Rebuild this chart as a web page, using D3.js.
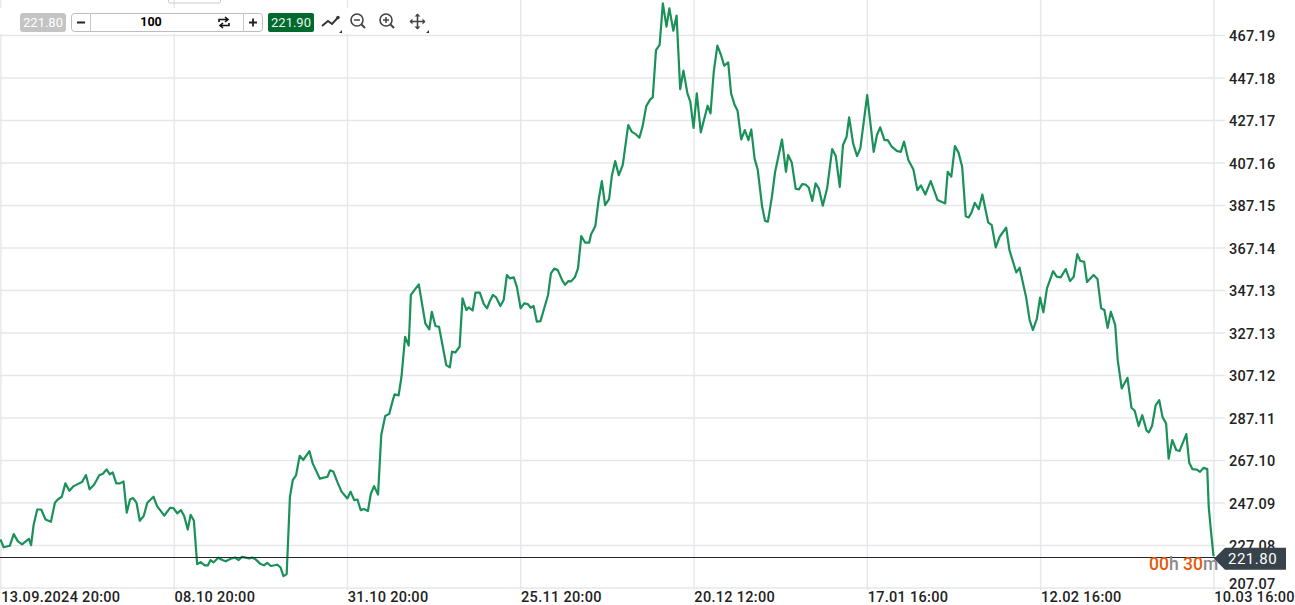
<!DOCTYPE html>
<html><head><meta charset="utf-8">
<style>
html,body{margin:0;padding:0;background:#fff;overflow:hidden}
svg{display:block}
text{font-family:Roboto,sans-serif}
</style>
<script src="https://cdn.jsdelivr.net/npm/d3@7"></script>
</head><body>
<script>
// bar position (0 = 13.09.2024 20:00, 48 bars per labelled interval) of each traced vertex
const barPos = [0,0.9,2.6,3.7,4.8,6,7.9,8.5,9.2,10.2,11.3,12.5,14,15.1,15.9,17,18,19.1,20.3,22.6,23.7,24.7,25.9,27.4,28.4,29.4,30.3,31.1,32.1,33.1,34.1,35,35.9,36.7,37.7,38.6,39.7,40.7,42.4,43.4,45.4,47,47.9,49,50,50.9,51.9,52.7,53.6,54.5,55.5,56.6,57.5,58.2,59.1,60.3,61.5,62.4,63.8,65,66,66.9,68.9,69.8,70.7,72.1,73,73.9,74.9,76.7,77.6,78.4,79.3,80.2,81,81.9,82.9,83.9,85.6,86.5,88.5,90.6,91.3,92.2,93.3,94.5,96.1,97,98,98.9,99.8,100.7,101.8,102.6,103.5,104.6,105.5,106.6,107.7,108.7,109.2,110.3,111.1,112.1,113.1,113.7,115.9,117.7,118.8,119.5,120.5,121.5,123.5,124.5,125.1,126,127.2,128,129.1,129.7,130.8,131.6,132.8,133.9,134.8,135.5,136.4,137.3,138.5,139.4,140.3,141.1,142.2,143.1,144.1,145.1,146.1,146.9,147.7,148.6,149.6,150.5,151.7,152.5,153.4,154.4,155.6,156.4,157.3,158.1,159.1,160,160.9,162,163.1,163.6,164.8,165.7,166.6,167.5,168.6,169.4,170.3,171.3,172.4,173.9,174.9,176,177,177.9,178.9,180,180.7,181.6,182.6,183.5,184.5,185.3,186.4,187.3,188.3,189.2,190.3,191.1,192,192.9,194,195.9,196.7,197.6,198.6,199.6,200.5,201.6,202.4,203.4,204.2,205.2,206.2,207.2,208,208.9,209.8,211,211.8,212.6,213.7,214.6,216.5,217.6,218.2,219.2,220.3,221.2,222.1,223,223.9,224.9,225.8,226.7,227.8,229,230.4,231.4,232.5,233.4,234.4,235.1,236.2,237.3,238.2,240.1,241.9,242.8,243.7,244.9,245.8,246.9,248.3,249.4,250.3,251.5,252.9,254,255,256.2,257.7,259.6,261.7,262.4,263.4,264.4,265.4,266.4,267.4,268.2,268.9,269.9,271,272,273.6,274.6,275.7,276.8,278.6,279.5,281.4,282.3,284.1,285.1,286,287.1,288,288.9,289.9,291.6,292.6,293.7,295.1,296.3,297.3,298.3,299.1,300.2,301,302.8,303.9,304.9,305.8,306.7,307.6,308.8,309.5,310.6,312.2,313.3,314.2,315.3,316.3,317.5,318.1,319,320,321,321.9,322.9,323.6,324.6,325.7,326.6,328.5,329.3,330.2,331.4,332.3,333.3,334.3,334.7,335.3,336,336.2];
const price = [229.7,226,226.7,232.2,228.9,227.4,230,227,236.5,243.8,243.8,239.1,238,247,248.5,249.8,256.1,252.6,254.8,256.7,260,253.3,255.3,259.9,260.6,262.7,260.3,261.3,256.1,256.1,257,242.3,248.5,249.2,247,238.5,240.7,247,249.8,245.4,240.9,244.6,244.5,242,243.5,240.7,234.4,241.3,238.5,218.1,219,217.5,217.5,220,218.9,221.1,220,219.4,220.6,221.2,220,221.5,220.8,221.1,220.3,218.1,217.5,218.7,217.2,217.8,216.5,212.4,213.4,249.8,257.7,259.9,269.1,267.1,271.3,265.5,258.3,259.2,262.2,261.7,256.9,252.2,249,252.2,248.2,248.5,243.5,244,243.1,251.1,254.8,250.8,278.9,287.8,288.8,295.3,298,297.5,306.3,325.1,321,344.8,349.8,331.4,328.6,336.9,330.2,329.8,311.8,310.7,318.1,317.7,320.4,343.2,337.7,338.9,337.5,345.9,345.9,340.5,338.5,341.6,344.8,343.7,339.6,342.4,354.2,352.6,353.1,348.4,338.5,340.8,340.5,338.8,339.6,332.2,332.5,337.7,344.8,355,357.2,356.5,351.8,349.6,351.3,351.2,353.1,357.3,372.5,369.4,369.4,373.3,377.3,389.5,398.4,387.1,389.9,401.2,407.8,401.2,406,424.8,421.6,420.5,418.8,424.3,433.7,436.9,437.8,460.1,462.5,482.1,471.1,479.7,469.2,476.3,441.7,450.4,439.7,435.8,423.5,439.7,421.3,433.9,430.3,449.9,462.2,457.8,452.7,454.3,439.7,434.2,431.5,418,422.4,417.7,422.7,409.1,403.6,386.3,379.7,379.3,391,402.8,418,402.8,410.7,407.2,394.8,394.5,397,396.8,395.4,389.1,397.3,395,386.8,395,413.5,410.2,395.7,415.4,419.3,428.4,416.2,410.2,413.8,438.9,412.2,420.1,423.7,417.7,417.7,414.6,412.6,412.2,417,408.3,403.9,394.2,396.4,392.1,398.4,389.5,387.9,402.8,400.5,414.9,411.8,405.2,381.9,381.3,383.2,388.2,385.2,392.1,379,377.7,367.2,372.2,376.5,365.9,355.4,357.6,344,333,328.3,333.7,343.6,336.6,347.9,356,353.4,353.1,357,351.3,353.4,364,360.9,360.4,350.9,354.2,352.3,338.5,337.7,329.3,336.9,330.6,314.1,300.8,305.8,291.7,290.3,283.1,288.2,280.9,280.1,283.1,292.8,295.3,287.4,284.3,267.7,276.5,271.8,271.3,279.3,265.8,262.8,262.6,261.5,263.4,262.8,245.1,234.1,222.3,221.8];
const yTicks = [467.19,447.18,427.17,407.16,387.15,367.14,347.13,327.13,307.12,287.11,267.10,247.09,227.08,207.07];
const xTickBars = [0,48,96,144,192,240,288,336];
const xTickLabels = ["13.09.2024 20:00","08.10 20:00","31.10 20:00","25.11 20:00","20.12 12:00","17.01 16:00","12.02 16:00","10.03 16:00"];
const lastPrice = 221.80, bidLabel = "221.80", askLabel = "221.90", quantity = "100";

const W = 1295, H = 605, GRID = "#e5e7ec";
const x = d3.scaleLinear().domain([0,336]).range([0.4,1213.4]);
const y = d3.scaleLinear().domain([207.07,467.19]).range([587.5,35]);
const svg = d3.select("body").append("svg").attr("width",W).attr("height",H);

// horizontal grid + y labels
const yAxis = d3.axisRight(y).tickValues(yTicks).tickSize(1225).tickPadding(4).tickFormat(d3.format(".2f"));
const gy = svg.append("g").call(yAxis);
gy.select(".domain").remove();
gy.selectAll(".tick line").attr("stroke",GRID).attr("stroke-width",1.4);
gy.selectAll(".tick text").attr("fill","#222").attr("font-size",14.5).attr("font-weight",500).attr("letter-spacing",0.2).attr("font-family","Roboto")
  .attr("dy", d => d===207.07 ? "0.05em" : "0.38em");

// vertical grid + x labels
const xAxis = d3.axisBottom(x).tickValues(xTickBars).tickSize(590).tickPadding(0).tickFormat((d,i)=>xTickLabels[i]);
const gx = svg.append("g").call(xAxis);
gx.select(".domain").remove();
gx.selectAll(".tick line").attr("stroke",GRID).attr("stroke-width",1.4);
gx.selectAll(".tick text").attr("fill","#222").attr("font-size",14.5).attr("font-weight",500).attr("letter-spacing",0.3)
  .attr("font-family","Roboto").attr("text-anchor","start").attr("dx",0.3).attr("y",592).attr("dy","0.71em");

// price line
const line = d3.line().x((d,i)=>x(barPos[i])).y(d=>y(d));
svg.append("path").datum(price).attr("d",line).attr("fill","none").attr("stroke","#1a9158").attr("stroke-width",2.2).attr("stroke-linejoin","round");

// last price line
const ly = Math.round(y(lastPrice))+1.5;
svg.append("line").attr("x1",0).attr("x2",1222).attr("y1",ly).attr("y2",ly).attr("stroke","#23272b").attr("stroke-width",1);

// price tag
const ty = y(lastPrice)+2.5;
svg.append("path").attr("d",`M1214,${ty} L1225,${ty-11} H1286 V${ty+11} H1225 Z`).attr("fill","#37424a");
svg.append("text").attr("x",1228).attr("y",ty).attr("dy","0.35em").attr("fill","#fff").attr("font-size",15).attr("letter-spacing",0.5).text(lastPrice.toFixed(2));

// countdown
const cd = svg.append("text").attr("x",1149).attr("y",570).attr("font-size",17.5).attr("font-weight",500).attr("style","white-space:pre");
[["00","#e8590c"],["h","#8a8a8a"],[" 30","#e8590c"],["m","#8a8a8a"]].forEach(([t,c])=>cd.append("tspan").attr("fill",c).text(t));

// toolbar
const tb = svg.append("g");
tb.append("rect").attr("x",0).attr("y",8).attr("width",436).attr("height",26).attr("fill","#fff");
tb.append("path").attr("d","M168.5,0 V1.5 Q168.5,3 170,3 H219 Q220.5,3 220.5,1.5 V0").attr("fill","none").attr("stroke","#ccc");
tb.append("rect").attr("x",20).attr("y",13).attr("width",46).attr("height",19).attr("rx",3).attr("fill","#c4c4c4");
tb.append("text").attr("x",43).attr("y",22.5).attr("dy","0.35em").attr("text-anchor","middle").attr("fill","#fff").attr("font-size",13).text(bidLabel);
tb.append("rect").attr("x",71.5).attr("y",13.5).attr("width",191).attr("height",18).attr("rx",3).attr("fill","#fff").attr("stroke","#bdbdbd");
tb.append("path").attr("d","M90.5,13.5 V31.5 M243.5,13.5 V31.5").attr("stroke","#c8c8c8");
tb.append("path").attr("d","M77,22.5 H85 M249,22.5 H257 M253,18.5 V26.5").attr("stroke","#222").attr("stroke-width",1.8);
tb.append("text").attr("x",151).attr("y",21.8).attr("dy","0.35em").attr("text-anchor","middle").attr("fill","#000").attr("font-size",12.5).attr("font-weight",700).text(quantity);
tb.append("path").attr("d","M219,22 V19.5 H227 M225,17 L228,19.5 L225,22 M229,23 V25.5 H221 M223,23 L220,25.5 L223,28").attr("fill","none").attr("stroke","#111").attr("stroke-width",1.6);
tb.append("rect").attr("x",268).attr("y",13).attr("width",46).attr("height",19).attr("rx",2).attr("fill","#006a2e");
tb.append("text").attr("x",291).attr("y",22.5).attr("dy","0.35em").attr("text-anchor","middle").attr("fill","#e8f5ec").attr("font-size",13).text(askLabel);
// icons
tb.append("path").attr("d","M322,26 L328,21 L332,24 L338,17.5").attr("fill","none").attr("stroke","#333").attr("stroke-width",1.9);
tb.append("circle").attr("cx",338).attr("cy",17.5).attr("r",1.7).attr("fill","#333");
tb.append("path").attr("d","M342,30 V33 H339 Z M429,30 V33 H426 Z").attr("fill","#333");
[[358,false],[387,true]].forEach(([cx,plus])=>{
  tb.append("circle").attr("cx",cx-1).attr("cy",20).attr("r",6).attr("fill","none").attr("stroke","#444").attr("stroke-width",1.6);
  tb.append("path").attr("d",`M${cx+3.5},24.5 L${cx+7},28`).attr("stroke","#444").attr("stroke-width",2);
  tb.append("path").attr("d",`M${cx-4},20 H${cx+2}`+(plus?` M${cx-1},17 V23`:"")).attr("stroke","#444").attr("stroke-width",1.5);
});
tb.append("path").attr("d","M410,21.5 H425 M417.5,14 V29").attr("stroke","#444").attr("stroke-width",1.6);
tb.append("path").attr("d","M409.5,21.5 L412.5,18.5 V24.5 Z M425.5,21.5 L422.5,18.5 V24.5 Z M417.5,13.5 L414.5,16.5 H420.5 Z M417.5,29.5 L414.5,26.5 H420.5 Z").attr("fill","#444");
</script>
</body></html>
